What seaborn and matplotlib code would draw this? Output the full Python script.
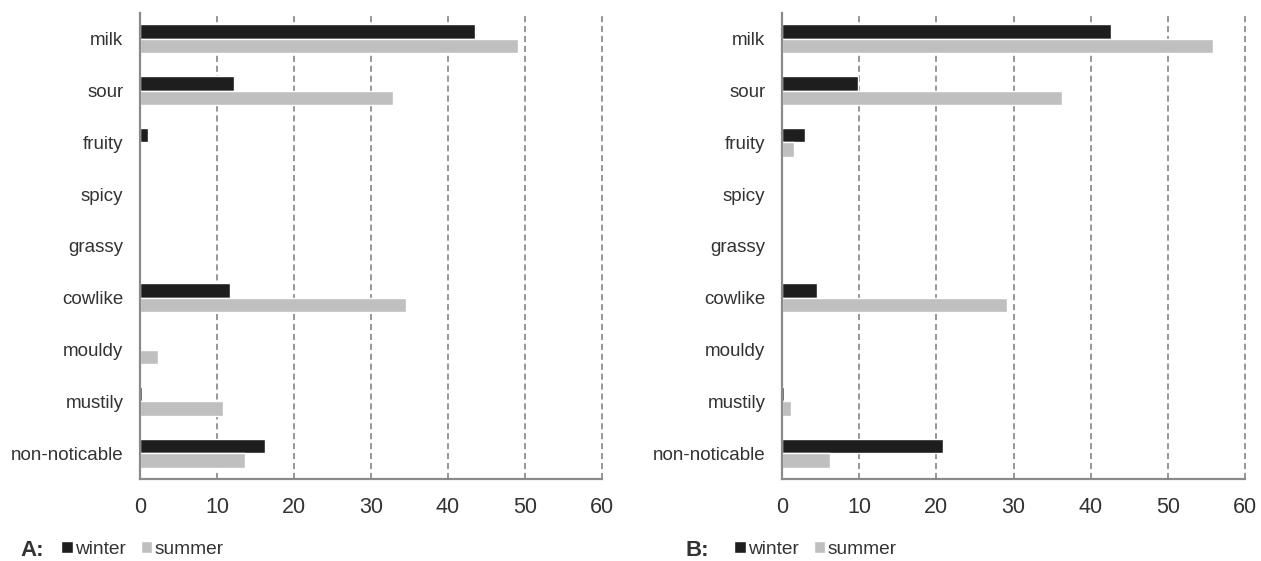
import matplotlib
matplotlib.use("Agg")
import matplotlib.pyplot as plt
import pandas as pd
import seaborn as sns

# Odour attributes and percentage of samples, per season
attributes = ["milk", "sour", "fruity", "spicy", "grassy",
              "cowlike", "mouldy", "mustily", "non-noticable"]
seasons = ["winter", "summer"]

a_winter = [43.5, 12.2, 1.0, 0.0, 0.0, 11.7, 0.0, 0.2, 16.2]
a_summer = [49.1, 32.9, 0.0, 0.0, 0.0, 34.6, 2.4, 10.8, 13.7]

b_winter = [42.6, 9.9, 3.0, 0.0, 0.0, 4.6, 0.0, 0.3, 20.8]
b_summer = [55.9, 36.3, 1.5, 0.0, 0.0, 29.2, 0.0, 1.2, 6.2]

x_ticks = [0, 10, 20, 30, 40, 50, 60]
panel_letters = ["A:", "B:"]

season_colors = {"winter": "#1e1e1e", "summer": "#bfbfbf"}
text_color = "#333333"
axis_color = "#8a8a8a"


def long_table(winter, summer):
    rows = []
    for name, w, s in zip(attributes, winter, summer):
        rows.append({"attribute": name, "season": "winter", "value": w})
        rows.append({"attribute": name, "season": "summer", "value": s})
    return pd.DataFrame(rows)


sns.set_theme(style="white")
plt.rcParams["font.family"] = ["Liberation Sans", "DejaVu Sans"]

W, H = 1261, 561
fig = plt.figure(figsize=(W / 100, H / 100), dpi=100)

panels = [
    (long_table(a_winter, a_summer), 140, 462, 20, 61),
    (long_table(b_winter, b_summer), 782, 463, 686, 734),
]

for (df, left, width, letter_x, legend_x), letter in zip(panels, panel_letters):
    ax = fig.add_axes([left / W, 1 - 479 / H, width / W, 466 / H])
    sns.barplot(data=df, y="attribute", x="value", hue="season",
                order=attributes, hue_order=seasons, palette=season_colors,
                orient="h", width=0.56, saturation=1, errorbar=None,
                ax=ax)
    ax.set_xlim(0, 60)
    ax.set_ylim(len(attributes) - 0.5, -0.5)
    ax.set_xticks(x_ticks)
    ax.set_xticklabels([str(t) for t in x_ticks])
    ax.set_xlabel("")
    ax.set_ylabel("")
    ax.set_axisbelow(True)
    ax.grid(axis="x", color="#7a7a7a", linestyle=(0, (4, 2.5)), linewidth=1.1)
    ax.grid(axis="y", visible=False)
    for line in ax.get_xgridlines():
        line.set_clip_on(False)
    for side in ("top", "right"):
        ax.spines[side].set_visible(False)
    for side in ("left", "bottom"):
        ax.spines[side].set_color(axis_color)
        ax.spines[side].set_linewidth(1.6)
    ax.tick_params(axis="x", length=0, pad=13, labelsize=15.5, labelcolor=text_color)
    ax.tick_params(axis="y", length=0, pad=12, labelsize=13.5, labelcolor=text_color)

    handles, labels = ax.get_legend_handles_labels()
    ax.get_legend().remove()
    ax.legend(handles, labels, loc="center left",
              bbox_to_anchor=(legend_x / W, 1 - 549 / H),
              bbox_transform=fig.transFigure, ncol=2, frameon=False,
              fontsize=13.8, handlelength=0.6, handleheight=0.6,
              handletextpad=0.15, columnspacing=0.75, borderpad=0,
              borderaxespad=0, labelcolor=text_color)

    fig.text(letter_x / W, 1 - 550 / H, letter, fontsize=16,
             fontweight="bold", color=text_color, ha="left", va="center")

fig.savefig("out.png", dpi=100, facecolor="white")
